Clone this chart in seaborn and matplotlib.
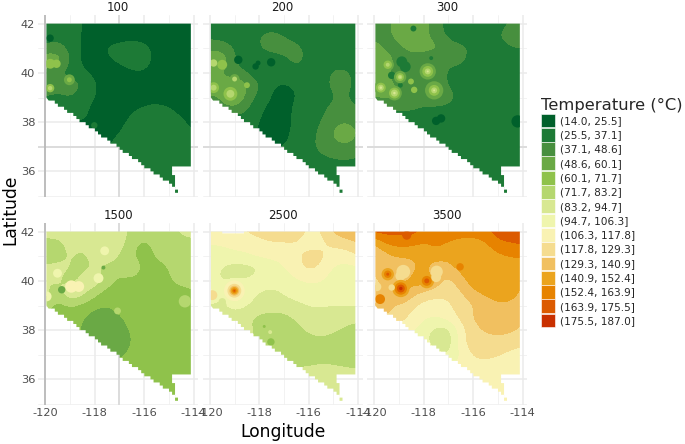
import numpy as np
import pandas as pd
import matplotlib
matplotlib.use("Agg")
import matplotlib.pyplot as plt
import seaborn as sns
from matplotlib.colors import ListedColormap, BoundaryNorm
from matplotlib.patches import Patch, Polygon

depths = [100, 200, 300, 1500, 2500, 3500]
lon_nodes = [-120.0, -119.5, -119.0, -118.5, -118.0, -117.5, -117.0, -116.5, -116.0, -115.5, -115.0, -114.5, -114.0]
lat_nodes = [42.0, 41.5, 41.0, 40.5, 40.0, 39.5, 39.0, 38.5, 38.0, 37.5, 37.0, 36.5, 36.0, 35.5]

breaks = [14.0, 25.5, 37.1, 48.6, 60.1, 71.7, 83.2, 94.7, 106.3, 117.8, 129.3, 140.9, 152.4, 163.9, 175.5, 187.0]
band_colors = ["#00602b", "#1d7a36", "#478f3e", "#6aa945", "#8fc24b", "#b5d76f", "#d8e892", "#eff5ad",
               "#f9f2b3", "#f5dc8f", "#f1c060", "#eba41e", "#e78300", "#dc5a00", "#c93000"]
band_labels = ["(14.0, 25.5]", "(25.5, 37.1]", "(37.1, 48.6]", "(48.6, 60.1]", "(60.1, 71.7]",
               "(71.7, 83.2]", "(83.2, 94.7]", "(94.7, 106.3]", "(106.3, 117.8]", "(117.8, 129.3]",
               "(129.3, 140.9]", "(140.9, 152.4]", "(152.4, 163.9]", "(163.9, 175.5]", "(175.5, 187.0]"]

# temperature, rows north to south
temp_100 = [
    [33, 33, 31, 25, 22, 20, 20, 20, 20, 20, 20, 20, 20],
    [30, 33, 33, 24, 21, 20, 20, 20, 20, 20, 20, 20, 20],
    [40, 42, 33, 24, 21, 27, 30, 33, 30, 21, 20, 20, 20],
    [58, 60, 38, 22, 20, 24, 28, 32, 33, 21, 20, 20, 20],
    [44, 36, 30, 28, 23, 20, 20, 24, 24, 20, 20, 20, 20],
    [56, 42, 50, 35, 27, 20, 20, 20, 20, 20, 20, 20, 20],
    [33, 33, 36, 31, 26, 20, 20, 20, 20, 20, 20, 20, 20],
    [31, 31, 31, 29, 22, 20, 20, 24, 28, 31, 27, 22, 20],
    [25, 25, 25, 25, 24, 20, 22, 29, 31, 33, 32, 28, 22],
    [22, 22, 22, 22, 22, 22, 26, 31, 33, 33, 33, 31, 26],
    [22, 22, 22, 22, 22, 24, 30, 33, 33, 33, 33, 33, 30],
    [33, 33, 33, 33, 33, 33, 33, 33, 33, 33, 33, 33, 33],
    [33, 33, 33, 33, 33, 33, 33, 33, 33, 33, 33, 33, 33],
    [33, 33, 33, 33, 33, 33, 33, 33, 33, 33, 33, 33, 33],
]
temp_200 = [
    [31, 31, 31, 33, 31, 30, 30, 29, 24, 30, 31, 31, 31],
    [33, 31, 31, 31, 37, 42, 36, 31, 26, 30, 31, 31, 31],
    [45, 45, 35, 31, 37, 44, 44, 42, 33, 31, 31, 31, 31],
    [60, 60, 36, 30, 30, 27, 33, 42, 33, 31, 31, 31, 31],
    [52, 46, 42, 36, 28, 31, 31, 33, 31, 31, 40, 40, 32],
    [65, 50, 62, 50, 38, 26, 24, 27, 31, 31, 42, 42, 32],
    [44, 52, 68, 43, 33, 24, 22, 25, 31, 31, 36, 38, 31],
    [36, 44, 42, 38, 27, 22, 20, 30, 31, 34, 42, 44, 38],
    [31, 31, 31, 31, 25, 20, 22, 28, 31, 37, 46, 47, 44],
    [25, 25, 25, 25, 25, 21, 22, 30, 31, 42, 50, 62, 46],
    [25, 25, 25, 25, 25, 25, 25, 31, 33, 42, 45, 45, 42],
    [31, 31, 31, 31, 31, 31, 31, 31, 31, 34, 37, 38, 36],
    [31, 31, 31, 31, 31, 31, 31, 31, 31, 31, 31, 31, 31],
    [31, 31, 31, 31, 31, 31, 31, 31, 31, 31, 31, 31, 31],
]
temp_300 = [
    [44, 45, 54, 54, 54, 42, 33, 31, 31, 31, 31, 38, 44],
    [44, 46, 53, 57, 54, 42, 34, 32, 31, 31, 37, 44, 44],
    [55, 44, 44, 55, 52, 55, 42, 40, 36, 31, 31, 36, 38],
    [58, 56, 44, 40, 43, 33, 40, 42, 31, 31, 31, 31, 31],
    [52, 48, 46, 42, 52, 44, 36, 31, 31, 31, 31, 31, 31],
    [56, 52, 46, 50, 45, 46, 35, 31, 31, 31, 31, 31, 31],
    [48, 52, 50, 47, 46, 52, 44, 33, 31, 31, 31, 31, 31],
    [40, 38, 36, 38, 33, 31, 31, 31, 31, 31, 31, 31, 31],
    [31, 31, 31, 31, 31, 31, 31, 31, 31, 31, 31, 31, 31],
    [31, 31, 31, 31, 31, 31, 31, 31, 31, 31, 31, 31, 31],
    [31, 31, 31, 31, 31, 31, 31, 31, 31, 31, 31, 31, 31],
    [31, 31, 31, 31, 31, 31, 31, 31, 31, 31, 31, 31, 31],
    [31, 31, 31, 31, 31, 31, 31, 31, 31, 31, 31, 31, 31],
    [31, 31, 31, 31, 31, 31, 31, 31, 31, 31, 31, 31, 31],
]
temp_1500 = [
    [90, 90, 90, 88, 90, 91, 90, 80, 78, 78, 78, 86, 90],
    [78, 78, 88, 85, 90, 92, 90, 76, 68, 76, 78, 78, 78],
    [78, 78, 85, 80, 88, 92, 82, 72, 65, 74, 77, 78, 78],
    [86, 88, 84, 78, 85, 78, 78, 87, 66, 66, 72, 78, 78],
    [80, 87, 74, 88, 95, 78, 68, 66, 66, 66, 70, 77, 76],
    [90, 75, 100, 90, 75, 66, 66, 66, 66, 66, 66, 66, 70],
    [80, 66, 72, 68, 64, 60, 66, 66, 66, 66, 66, 70, 73],
    [66, 66, 66, 62, 53, 54, 58, 66, 66, 66, 66, 66, 66],
    [66, 66, 66, 58, 54, 54, 54, 62, 66, 66, 66, 66, 66],
    [66, 66, 66, 60, 54, 54, 54, 60, 66, 66, 66, 66, 66],
    [66, 66, 66, 66, 60, 56, 56, 64, 66, 66, 66, 66, 66],
    [66, 66, 66, 66, 66, 66, 66, 66, 66, 66, 66, 66, 62],
    [66, 66, 66, 66, 66, 66, 66, 66, 66, 66, 66, 66, 66],
    [66, 66, 66, 66, 66, 66, 66, 66, 66, 66, 66, 66, 66],
]
temp_2500 = [
    [118, 118, 117, 119, 124, 125, 125, 123, 116, 117, 134, 137, 138],
    [105, 108, 110, 110, 113, 117, 117, 117, 113, 114, 120, 125, 130],
    [102, 100, 104, 106, 110, 109, 110, 116, 122, 122, 112, 110, 119],
    [98, 94, 88, 88, 92, 101, 105, 115, 122, 116, 104, 103, 103],
    [100, 92, 93, 96, 102, 101, 101, 104, 108, 107, 100, 100, 100],
    [118, 97, 135, 100, 94, 90, 96, 100, 101, 101, 101, 101, 101],
    [90, 88, 100, 95, 90, 90, 90, 92, 96, 96, 95, 96, 96],
    [90, 90, 88, 84, 80, 78, 79, 85, 89, 89, 89, 88, 86],
    [88, 88, 88, 88, 78, 77, 77, 80, 86, 88, 85, 81, 78],
    [88, 88, 88, 88, 80, 72, 77, 77, 78, 80, 78, 77, 77],
    [88, 88, 88, 88, 80, 78, 77, 77, 77, 77, 77, 77, 77],
    [89, 89, 89, 89, 89, 89, 80, 83, 84, 86, 85, 83, 82],
    [89, 89, 89, 89, 89, 89, 89, 89, 89, 89, 89, 89, 89],
    [89, 89, 89, 89, 89, 89, 89, 89, 89, 89, 89, 89, 89],
]
temp_3500 = [
    [170, 170, 168, 172, 160, 158, 158, 158, 158, 160, 172, 176, 178],
    [138, 155, 156, 155, 150, 155, 152, 148, 147, 150, 160, 162, 165],
    [131, 135, 145, 143, 148, 150, 144, 146, 146, 146, 150, 153, 154],
    [132, 138, 125, 134, 146, 128, 138, 146, 146, 146, 146, 146, 146],
    [125, 133, 137, 146, 155, 138, 124, 137, 148, 148, 148, 148, 141],
    [135, 122, 160, 135, 125, 122, 120, 128, 139, 144, 148, 150, 137],
    [150, 135, 124, 120, 114, 112, 116, 122, 128, 135, 138, 137, 133],
    [128, 128, 125, 116, 108, 106, 112, 122, 131, 135, 137, 136, 128],
    [110, 110, 110, 108, 100, 90, 88, 112, 126, 131, 132, 132, 129],
    [104, 104, 104, 104, 100, 86, 86, 115, 124, 125, 127, 124, 119],
    [104, 104, 104, 104, 104, 100, 92, 108, 120, 122, 119, 114, 114],
    [112, 112, 112, 112, 112, 112, 112, 108, 113, 112, 112, 112, 112],
    [112, 112, 112, 112, 112, 112, 112, 112, 112, 112, 112, 112, 112],
    [112, 112, 112, 112, 112, 112, 112, 112, 112, 112, 112, 112, 112],
]
temps = {100: temp_100, 200: temp_200, 300: temp_300, 1500: temp_1500, 2500: temp_2500, 3500: temp_3500}

# small local anomalies too tight for the half degree grid: depth, lon, lat, temp, radius in degrees
spot_rows = [
    (100, -119.81, 41.41, 20, .15), (100, -119.8, 40.37, 66, .2), (100, -119.55, 40.37, 66, .17),
    (100, -119.81, 39.38, 66, .17), (100, -119.81, 39.38, 77, .09), (100, -119.03, 39.72, 54, .22),
    (100, -119.03, 39.72, 66, .1), (100, -118.02, 37.87, 31, .13),
    (200, -119.17, 39.15, 54, .42), (200, -119.17, 39.15, 66, .28), (200, -119.17, 39.15, 77, .16),
    (200, -119.85, 39.4, 54, .3), (200, -119.85, 39.4, 66, .22), (200, -119.85, 39.4, 77, .12),
    (200, -119.5, 40.33, 66, .2), (200, -119.85, 40.4, 77, .15),
    (200, -119.0, 39.75, 54, .2), (200, -119.0, 39.75, 77, .1), (200, -118.5, 39.5, 66, .12),
    (200, -118.85, 40.53, 20, .17), (200, -118.15, 40.26, 20, .13), (200, -118.05, 40.4, 20, .1),
    (200, -117.52, 40.43, 20, .17),
    (300, -118.89, 40.45, 31, .22), (300, -118.75, 40.25, 31, .22), (300, -119.3, 39.9, 31, .15),
    (300, -118.95, 39.5, 31, .1), (300, -118.42, 41.8, 31, .12), (300, -117.7, 40.6, 31, .08),
    (300, -117.5, 38.05, 20, .17), (300, -117.3, 38.15, 20, .17), (300, -114.2, 38.03, 20, .25),
    (300, -119.46, 40.33, 54, .25), (300, -119.46, 40.33, 66, .17), (300, -119.46, 40.33, 77, .08),
    (300, -118.96, 39.83, 54, .25), (300, -118.96, 39.83, 66, .16), (300, -118.96, 39.83, 77, .09),
    (300, -118.96, 39.83, 92, .03), (300, -117.84, 40.06, 54, .33), (300, -117.84, 40.06, 66, .22),
    (300, -117.84, 40.06, 77, .12), (300, -117.84, 40.06, 89, .04), (300, -117.58, 39.29, 54, .37),
    (300, -117.58, 39.29, 66, .22), (300, -117.58, 39.29, 77, .12), (300, -117.58, 39.29, 89, .04),
    (300, -119.74, 39.4, 54, .28), (300, -119.74, 39.4, 66, .2), (300, -119.74, 39.4, 77, .12),
    (300, -119.74, 39.4, 89, .05), (300, -119.19, 39.18, 54, .3), (300, -119.19, 39.18, 66, .22),
    (300, -119.19, 39.18, 77, .14), (300, -119.19, 39.18, 89, .05),
    (300, -118.39, 39.31, 66, .13), (300, -118.52, 39.65, 66, .12),
    (1500, -117.6, 41.22, 100, .18), (1500, -119.51, 40.31, 100, .18), (1500, -119.95, 39.37, 100, .2),
    (1500, -118.95, 39.77, 112, .25), (1500, -118.65, 39.77, 112, .22), (1500, -117.85, 40.11, 105, .2),
    (1500, -119.34, 39.64, 54, .15), (1500, -117.65, 40.54, 54, .08), (1500, -117.08, 38.78, 77, .14),
    (1500, -114.35, 39.17, 77, .25),
    (2500, -119.9, 39.42, 123, .2), (2500, -119.5, 39.15, 89, .15), (2500, -119.45, 39.0, 89, .13),
    (2500, -119.01, 39.6, 112, .42), (2500, -119.01, 39.6, 123, .28), (2500, -119.01, 39.6, 135, .2),
    (2500, -119.01, 39.6, 146, .15), (2500, -119.01, 39.6, 158, .09), (2500, -119.01, 39.6, 168, .04),
    (2500, -117.56, 37.92, 89, .08), (2500, -117.8, 38.15, 66, .06), (2500, -117.53, 37.52, 66, .15),
    (3500, -119.46, 40.27, 146, .25), (3500, -119.46, 40.27, 158, .15), (3500, -119.46, 40.27, 168, .06),
    (3500, -118.83, 40.37, 123, .28), (3500, -118.95, 40.2, 123, .2), (3500, -118.93, 39.69, 146, .35),
    (3500, -118.93, 39.69, 158, .25), (3500, -118.93, 39.69, 170, .16), (3500, -118.93, 39.69, 181, .07),
    (3500, -117.88, 40.0, 146, .3), (3500, -117.88, 40.0, 158, .2), (3500, -117.88, 40.0, 170, .1),
    (3500, -119.77, 39.26, 158, .2), (3500, -116.53, 40.57, 158, .15), (3500, -119.3, 39.73, 123, .13),
    (3500, -118.69, 41.85, 170, .18), (3500, -117.48, 40.37, 123, .25), (3500, -117.5, 40.15, 123, .2),
    (3500, -119.9, 39.76, 123, .18),
]
spots = pd.DataFrame(spot_rows, columns=["depth", "lon", "lat", "temp", "radius"])

PT_PER_DEG = 24.7 * 72 / 100

cmap = ListedColormap(band_colors)
norm = BoundaryNorm(breaks, cmap.N)


def state_outline(notch=False):
    # Nevada with the stepped raster edge along the south west border
    west, east, north = -119.96, -114.11, 42.0
    top = [(west, north)]
    if notch:
        top = [(west, north), (-119.5, north), (-119.5, 41.93), (-118.62, 41.93), (-118.62, north)]
    pts = top + [(east, north), (east, 36.2), (-114.87, 36.2), (-114.87, 35.85), (-114.75, 35.85),
                 (-114.75, 35.26), (-114.63, 35.26), (-114.63, 35.13), (-114.75, 35.13), (-114.75, 35.26)]
    stair_lon = np.arange(-114.87, west, -0.125)
    for x in stair_lon:
        y = 39.0 - 0.71 * (x - west)
        y = np.round(y / 0.125) * 0.125
        pts += [(x + 0.125, y), (x, y)]
    pts += [(west, 39.0)]
    return pts


sns.set_theme(style="white")
plt.rcParams["font.family"] = "DejaVu Sans"
plt.rcParams["axes.unicode_minus"] = False

frame = pd.DataFrame({"depth": depths})
g = sns.FacetGrid(frame, col="depth", col_wrap=3, sharex=True, sharey=True, height=1.82, aspect=160 / 182)
g.set_titles("{col_name}", size=8.5, color="#1a1a1a", pad=3)
g.figure.set_size_inches(6.85, 4.44)
g.figure.subplots_adjust(left=38 / 685, right=527 / 685, top=1 - 15 / 444, bottom=1 - 405 / 444,
                         wspace=4.5 / 160, hspace=26 / 182)

for i, (depth, ax) in enumerate(g.axes_dict.items()):
    ax.set_xlim(-120.3, -113.82)
    ax.set_ylim(34.96, 42.35)
    for v in [-119, -117, -115]:
        ax.axvline(v, color="#f0f0f0", lw=0.6, zorder=0)
    for v in [41, 39, 37, 35]:
        ax.axhline(v, color="#f0f0f0", lw=0.6, zorder=0)
    for v in [-120, -118, -116, -114]:
        ax.axvline(v, color="#ebebeb", lw=1.1, zorder=0)
    for v in [42, 40, 38, 36]:
        ax.axhline(v, color="#ebebeb", lw=1.1, zorder=0)
    if i < 3:
        ax.axhline(37, color="#dcdcdc", lw=1.4, zorder=0.5)
    if i % 3 == 0:
        ax.axvline(-120, color="#b5b5b5", lw=1.2, zorder=0.5)
        ax.axvline(-117, color="#dcdcdc", lw=1.4, zorder=0.5)

    # repeat the last row so the field also covers the southern tip
    grid = np.array(temps[depth], dtype=float)
    grid = np.vstack([grid, grid[-1]])
    step = lon_nodes[1] - lon_nodes[0]
    extent = [lon_nodes[0] - step / 2, lon_nodes[-1] + step / 2,
              lat_nodes[-1] - step - step / 2, lat_nodes[0] + step / 2]
    clip = Polygon(state_outline(notch=depth == 2500), closed=True, transform=ax.transData, facecolor="none", edgecolor="none")
    ax.add_patch(clip)
    img = ax.imshow(grid, extent=extent, origin="upper", cmap=cmap, norm=norm, aspect="auto",
                    interpolation="bicubic", interpolation_stage="data", zorder=1)
    img.set_clip_path(clip)
    sub = spots[spots["depth"] == depth]
    dots = ax.scatter(sub["lon"], sub["lat"], c=sub["temp"], cmap=cmap, norm=norm, linewidths=0,
                      s=(2 * sub["radius"] * PT_PER_DEG) ** 2, zorder=2)
    dots.set_clip_path(clip)
    ax.set_xlim(-120.3, -113.82)
    ax.set_ylim(34.96, 42.35)

    ax.set_xticks([-120, -118, -116, -114])
    ax.set_yticks([42, 40, 38, 36])
    ax.tick_params(length=0, labelsize=8.2, labelcolor="#4d4d4d", pad=2,
                   labelleft=i % 3 == 0, labelbottom=i >= 3)
    for s in ax.spines.values():
        s.set_visible(False)

g.set_axis_labels("", "")
g.figure.text(283 / 685, 1 - 432 / 444, "Longitude", fontsize=12.3, ha="center", va="center", color="black")
g.figure.text(10 / 685, 1 - 210 / 444, "Latitude", fontsize=12.3, rotation=90, ha="center", va="center", color="black")

handles = [Patch(facecolor=c, edgecolor="white", linewidth=0.4) for c in band_colors]
leg = g.figure.legend(handles, band_labels, title="Temperature (°C)", loc="upper left",
                      bbox_to_anchor=(541 / 685, 1 - 98 / 444), frameon=False, fontsize=7.6,
                      title_fontsize=11.8, handlelength=1.28, handleheight=1.63, handletextpad=0.55,
                      labelspacing=0.05, borderpad=0, borderaxespad=0)
leg._legend_box.align = "left"

g.figure.savefig("out.png", dpi=100)
